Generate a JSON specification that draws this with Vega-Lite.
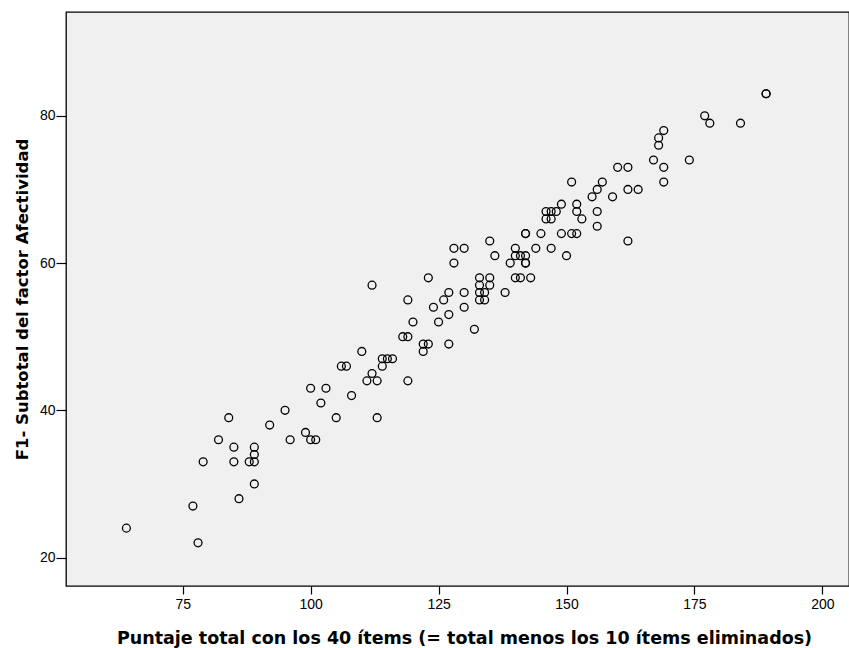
{
  "$schema": "https://vega.github.io/schema/vega-lite/v6.json",
  "autosize": {"type": "none"},
  "padding": {"left": 66, "top": 12, "right": 0, "bottom": 62},
  "width": 783,
  "height": 574,
  "background": "white",
  "config": {
    "view": {"fill": "#F0F0F0", "stroke": "black", "strokeWidth": 1.3},
    "font": "Liberation Sans",
    "axis": {"grid": false, "domain": false, "tickColor": "black", "tickWidth": 1.2, "labelColor": "black", "titleColor": "black", "labelFont": "Liberation Sans", "titleFont": "DejaVu Sans", "labelFontSize": 14, "titleFontWeight": "bold"}
  },
  "data": {"values": [
    {"total": 64, "f1": 24}, {"total": 77, "f1": 27}, {"total": 78, "f1": 22}, {"total": 79, "f1": 33},
    {"total": 82, "f1": 36}, {"total": 84, "f1": 39}, {"total": 85, "f1": 35}, {"total": 85, "f1": 33},
    {"total": 86, "f1": 28}, {"total": 88, "f1": 33}, {"total": 89, "f1": 33}, {"total": 89, "f1": 34},
    {"total": 89, "f1": 35}, {"total": 89, "f1": 30}, {"total": 92, "f1": 38}, {"total": 95, "f1": 40},
    {"total": 96, "f1": 36}, {"total": 99, "f1": 37}, {"total": 100, "f1": 36}, {"total": 101, "f1": 36},
    {"total": 100, "f1": 43}, {"total": 102, "f1": 41}, {"total": 103, "f1": 43}, {"total": 105, "f1": 39},
    {"total": 106, "f1": 46}, {"total": 107, "f1": 46}, {"total": 108, "f1": 42}, {"total": 110, "f1": 48},
    {"total": 111, "f1": 44}, {"total": 112, "f1": 45}, {"total": 112, "f1": 57}, {"total": 113, "f1": 44},
    {"total": 113, "f1": 39}, {"total": 114, "f1": 46}, {"total": 114, "f1": 47}, {"total": 115, "f1": 47},
    {"total": 116, "f1": 47}, {"total": 118, "f1": 50}, {"total": 119, "f1": 50}, {"total": 119, "f1": 55},
    {"total": 119, "f1": 44}, {"total": 120, "f1": 52}, {"total": 122, "f1": 49}, {"total": 122, "f1": 48},
    {"total": 123, "f1": 49}, {"total": 123, "f1": 58}, {"total": 124, "f1": 54}, {"total": 125, "f1": 52},
    {"total": 126, "f1": 55}, {"total": 127, "f1": 56}, {"total": 127, "f1": 53}, {"total": 127, "f1": 49},
    {"total": 128, "f1": 62}, {"total": 128, "f1": 60}, {"total": 130, "f1": 62}, {"total": 130, "f1": 56},
    {"total": 130, "f1": 54}, {"total": 132, "f1": 51}, {"total": 133, "f1": 58}, {"total": 133, "f1": 57},
    {"total": 133, "f1": 56}, {"total": 133, "f1": 55}, {"total": 134, "f1": 55}, {"total": 134, "f1": 56},
    {"total": 135, "f1": 58}, {"total": 135, "f1": 57}, {"total": 135, "f1": 63}, {"total": 136, "f1": 61},
    {"total": 138, "f1": 56}, {"total": 139, "f1": 60}, {"total": 140, "f1": 62}, {"total": 140, "f1": 61},
    {"total": 140, "f1": 58}, {"total": 141, "f1": 61}, {"total": 141, "f1": 58}, {"total": 142, "f1": 60},
    {"total": 142, "f1": 60}, {"total": 142, "f1": 61}, {"total": 142, "f1": 64}, {"total": 142, "f1": 64},
    {"total": 143, "f1": 58}, {"total": 144, "f1": 62}, {"total": 145, "f1": 64}, {"total": 146, "f1": 66},
    {"total": 146, "f1": 67}, {"total": 147, "f1": 66}, {"total": 147, "f1": 67}, {"total": 147, "f1": 62},
    {"total": 148, "f1": 67}, {"total": 149, "f1": 68}, {"total": 149, "f1": 64}, {"total": 150, "f1": 61},
    {"total": 151, "f1": 64}, {"total": 151, "f1": 71}, {"total": 152, "f1": 64}, {"total": 152, "f1": 68},
    {"total": 152, "f1": 67}, {"total": 153, "f1": 66}, {"total": 155, "f1": 69}, {"total": 156, "f1": 70},
    {"total": 156, "f1": 67}, {"total": 156, "f1": 65}, {"total": 157, "f1": 71}, {"total": 159, "f1": 69},
    {"total": 160, "f1": 73}, {"total": 162, "f1": 73}, {"total": 162, "f1": 70}, {"total": 162, "f1": 63},
    {"total": 164, "f1": 70}, {"total": 167, "f1": 74}, {"total": 168, "f1": 76}, {"total": 168, "f1": 77},
    {"total": 169, "f1": 78}, {"total": 169, "f1": 73}, {"total": 169, "f1": 71}, {"total": 174, "f1": 74},
    {"total": 177, "f1": 80}, {"total": 178, "f1": 79}, {"total": 184, "f1": 79}, {"total": 189, "f1": 83},
    {"total": 189, "f1": 83}
  ]},
  "mark": {"type": "point", "shape": "circle", "filled": false, "stroke": "black", "strokeWidth": 1.3, "size": 62, "opacity": 1},
  "encoding": {
    "x": {
      "field": "total", "type": "quantitative",
      "scale": {"domain": [52.2, 205.2], "nice": false, "zero": false},
      "axis": {"values": [75, 100, 125, 150, 175, 200], "tickSize": 8, "labelPadding": 3, "title": "Puntaje total con los 40 ítems (= total menos los 10 ítems eliminados)", "titleFontSize": 17.5, "titleBaseline": "alphabetic", "titleY": 57.5, "titleX": 398}
    },
    "y": {
      "field": "f1", "type": "quantitative",
      "scale": {"domain": [16.14, 94.1], "nice": false, "zero": false},
      "axis": {"values": [20, 40, 60, 80], "tickSize": 10, "labelPadding": 1, "title": "F1- Subtotal del factor Afectividad", "titleFontSize": 16.5, "titleBaseline": "alphabetic", "titleAngle": -90, "titleX": -39, "titleY": 287, "titleAlign": "center"}
    }
  }
}
